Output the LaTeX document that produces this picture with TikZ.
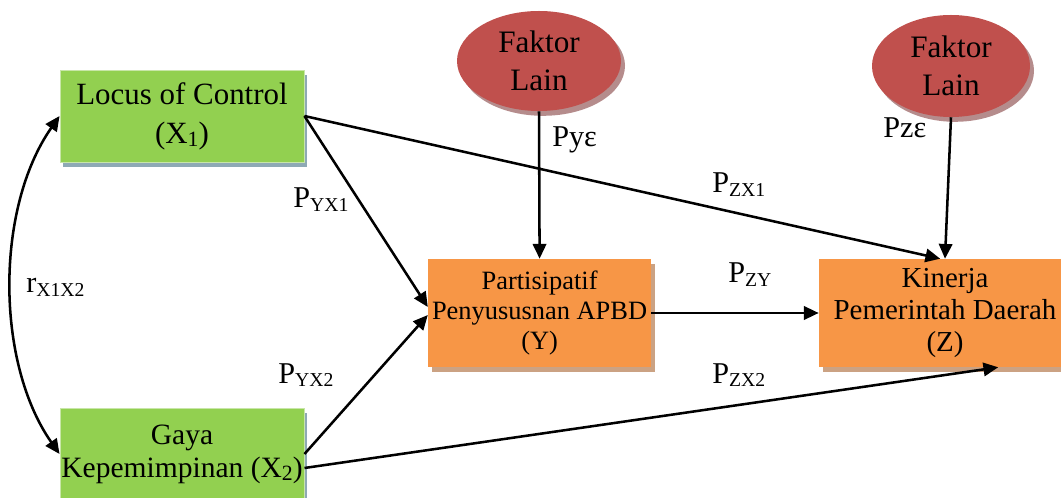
\documentclass[tikz,border=0pt]{standalone}
\usepackage{fontspec}
\setmainfont{Liberation Serif}
\usetikzlibrary{positioning,arrows.meta,shapes.geometric,shadows}
\definecolor{xgreen}{HTML}{92D050}
\definecolor{xedge}{HTML}{C8E6A8}
\definecolor{xshade}{HTML}{8EA9B5}
\definecolor{yorange}{HTML}{F79646}
\definecolor{yshade}{HTML}{CBA283}
\definecolor{ered}{HTML}{C0504D}
\definecolor{eshade}{HTML}{B58C8C}
\newcommand{\sbx}[1]{\raisebox{-2.1pt}{\fontsize{15.5}{15.5}\selectfont #1}}
\newcommand{\sbp}[1]{\raisebox{-2.8pt}{\fontsize{14}{14}\selectfont #1}}

\begin{document}
\begin{tikzpicture}[
  xbox/.style={rectangle, fill=xgreen, draw=xedge, line width=0.6pt, minimum width=6.1cm, minimum height=2.3cm, align=center, inner sep=1pt,
    drop shadow={shadow xshift=0.08cm, shadow yshift=-0.12cm, fill=xshade, opacity=1, draw=none}},
  ybox/.style={rectangle, fill=yorange, minimum width=5.575cm, minimum height=2.7cm, align=center, inner sep=1pt,
    drop shadow={shadow xshift=0.1cm, shadow yshift=-0.12cm, fill=yshade, opacity=1}},
  err/.style={ellipse, fill=ered, minimum width=4.1cm, minimum height=2.5cm, align=center, inner sep=0pt,
    font=\fontsize{22.2}{27}\selectfont,
    drop shadow={shadow xshift=0.1cm, shadow yshift=-0.12cm, fill=eshade, opacity=1}},
  lbl/.style={anchor=base west, inner sep=0pt, font=\fontsize{21.5}{24}\selectfont},
  >={Triangle[length=10.5pt, width=9.5pt]},
  arr/.style={->, line width=1.8pt},
  dbl/.style={<->, line width=1.8pt}
]
  \useasboundingbox (0,0) rectangle (26.525,-12.45);

  \node[xbox, font=\fontsize{22}{27.7}\selectfont] (x1) at (4.55,-2.9) {Locus of Control\\(X\sbx{1})};
  \node[xbox, font=\fontsize{21}{23.5}\selectfont] (x2) at (4.55,-11.35) {Gaya\\Kepemimpinan (X\sbx{2})};
  \node[ybox, font=\fontsize{18.8}{21.3}\selectfont] (y) at (13.49,-7.825) {Partisipatif\\Penyususnan APBD\\(Y)};
  \node[ybox, minimum width=6.3cm, font=\fontsize{20.6}{23}\selectfont] (z) at (23.625,-7.825) {Kinerja\\Pemerintah Daerah\\(Z)};
  \node[err] (f1) at (13.475,-1.525) {Faktor\\Lain};
  \node[err, minimum width=3.95cm, minimum height=2.55cm] (f2) at (23.775,-1.65) {Faktor\\Lain};

  \draw[dbl] (x1.west) to[out=235, in=125, looseness=0.85] (x2.west);
  \draw[arr] (x1.east) -- ([yshift=0.15cm]y.west);
  \draw[arr] (x2.east) -- ([yshift=-0.05cm]y.west);
  \draw[arr] (x1.east) -- ([xshift=-0.12cm]z.north);
  \draw[arr] ([yshift=-0.35cm]x2.east) -- ([xshift=1.33cm]z.south);
  \draw[arr] (f1.south) -- (y.north);
  \draw[arr] (f2.south) -- (z.north);
  \draw[arr] (y.east) -- (z.west);

  % path labels
  \node[lbl] (lyx1) at (7.325,-5.2) {P\sbp{YX1}};
  \node[lbl] (lyx2) at (6.95,-9.575) {P\sbp{YX2}};
  \node[lbl] (lye) at (13.8,-3.675) {Pyε};
  \node[lbl] (lze) at (22.075,-3.45) {Pzε};
  \node[lbl] (lzx1) at (17.8,-4.825) {P\sbp{ZX1}};
  \node[lbl] (lzy) at (18.2,-7.075) {P\sbp{ZY}};
  \node[lbl] (lzx2) at (17.8,-9.575) {P\sbp{ZX2}};
  \node[lbl] (rx) at (0.65,-7.325) {r\sbp{X1X2}};
\end{tikzpicture}
\end{document}
